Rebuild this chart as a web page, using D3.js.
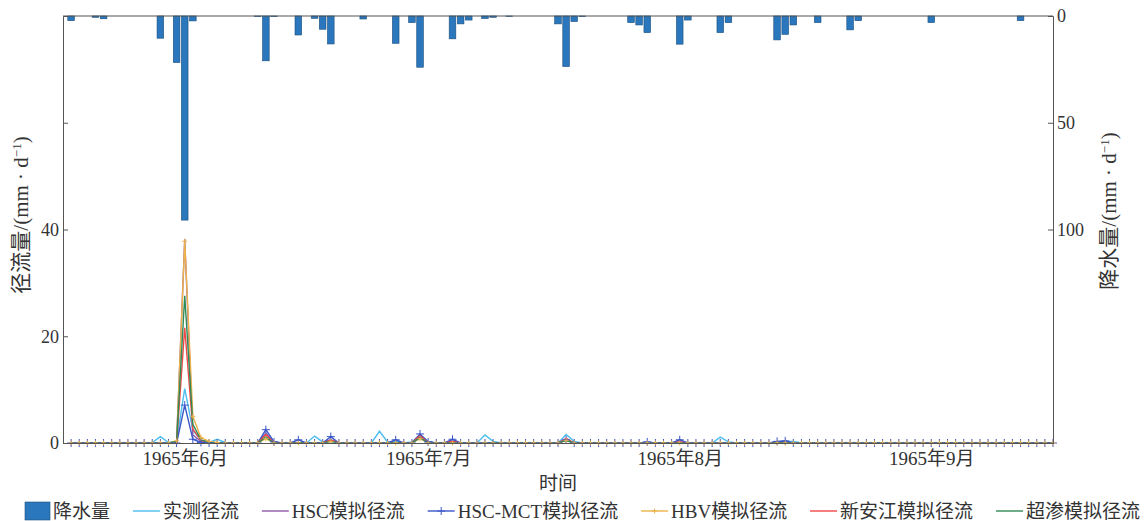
<!DOCTYPE html>
<html lang="zh">
<head>
  <meta charset="UTF-8">
  <title>降水量与径流过程</title>
  <script src="https://d3js.org/d3.v7.min.js"></script>
  <style>
    body { margin: 0; background: #fff; }
    text { font-family: "Liberation Serif", "Noto Sans CJK SC", serif; fill: #333; }
    .axis path, .axis line { stroke: #555; }
  </style>
</head>
<body>
<div id="chart"></div>

<script>
  // daily series, 1965-05-18 .. 1965-09-16 (one row per month)
  const rain = [
    2.2,0,0,0.6,1.3,0,0,0,0,0,0,10.4,0,21.8,
    95.6,2.3,0,0,0,0,0,0,0,0.3, 21,0.3,0,0,8.9,0,1.1,6.2,13.1,0, 0,0,1.4,0,0,0,12.8,0,3.1,24,
    0,0,0,10.7,3.7,1.9,0,1.2,0.6,0, 0.2,0,0,0,0,0,3.7,23.7,2.6,0.3, 0,0,0,0,0,3.1,4.2,7.8,0,0, 0,
    13.2,1.9,0,0,0,7.8,3.1,0,0,0, 0,0,11.2,8.6,4.2,0,0,3.1,0,0, 0,6.5,2.2,0,0,0,0,0,0,0, 0,
    3.1,0,0,0,0,0,0,0,0,0, 0,2.2,0,0,0,0
  ];
  const observed = [
    0,0,0,0,0,0,0,0,0,0,0.1,1.2,0.1,0.3,
    10.2,2.4,0.5,0.1,0.7,0.1,0,0,0,0, 1.2,0.2,0,0,0,0,1.3,0.2,0.5,0, 0,0,0,0,2.2,0.2,0.3,0,0.2,1.5,
    0.3,0,0,0.3,0,0,0,1.5,0.3,0, 0,0,0,0,0,0,0,1.6,0.3,0, 0,0,0,0,0,0,0,0,0,0, 0,
    0,0,0,0,0,1.1,0.2,0,0,0, 0,0,0.2,0.3,0.3,0,0,0,0,0, 0,0,0,0,0,0,0,0,0,0, 0,
    0,0,0,0,0,0,0,0,0,0, 0,0,0,0,0,0
  ];
  const hsc = [
    0,0,0,0,0,0,0,0,0,0,0,0,0,0.1,
    38.2,1.5,0.3,0,0,0,0,0,0,0, 1.8,0.2,0,0,0,0,0,0,0.6,0, 0,0,0,0,0,0,0,0,0,1.3,
    0.2,0,0,0.4,0,0,0,0,0,0, 0,0,0,0,0,0,0,0.5,0,0, 0,0,0,0,0,0,0,0,0,0, 0,
    0.2,0,0,0,0,0,0,0,0,0, 0,0,0,0.2,0,0,0,0,0,0, 0,0,0,0,0,0,0,0,0,0, 0,
    0,0,0,0,0,0,0,0,0,0, 0,0,0,0,0,0
  ];
  const hscMct = [
    0,0,0,0,0,0,0,0,0,0,0,0,0,0,
    7.1,0.7,0.1,0,0,0,0,0,0,0, 2.5,0.2,0,0,0.6,0,0,0,1.2,0, 0,0,0,0,0,0,0.6,0,0,1.7,
    0.2,0,0,0.7,0,0,0,0,0,0, 0,0,0,0,0,0,0,0.6,0,0, 0,0,0,0,0,0,0,0.2,0,0, 0,
    0.6,0,0,0,0,0,0,0,0,0, 0,0,0.3,0.4,0,0,0,0,0,0, 0,0,0,0,0,0,0,0,0,0, 0,
    0,0,0,0,0,0,0,0,0,0, 0,0,0,0,0,0
  ];
  const hbv = [
    0,0,0,0,0,0,0,0,0,0,0,0,0,0.4,
    37.8,5,1,0.3,0.1,0,0,0,0,0, 0.8,0,0,0,0,0,0,0,0.3,0, 0,0,0,0,0,0,0,0,0,0.8,
    0,0,0,0,0,0,0,0,0,0, 0,0,0,0,0,0,0,0.5,0,0, 0,0,0,0,0,0,0,0,0,0, 0,
    0,0,0,0,0,0,0,0,0,0, 0,0,0,0,0,0,0,0,0,0, 0,0,0,0,0,0,0,0,0,0, 0,
    0,0,0,0,0,0,0,0,0,0, 0,0,0,0,0,0
  ];
  const xaj = [
    0,0,0,0,0,0,0,0,0,0,0,0,0,0,
    21.6,2.6,0.5,0.1,0,0,0,0,0,0, 1.6,0,0,0,0,0,0,0,0.5,0, 0,0,0,0,0,0,0,0,0,1.4,
    0,0,0,0.3,0,0,0,0,0,0, 0,0,0,0,0,0,0,0.9,0,0, 0,0,0,0,0,0,0,0,0,0, 0,
    0.2,0,0,0,0,0,0,0,0,0, 0,0,0,0,0,0,0,0,0,0, 0,0,0,0,0,0,0,0,0,0, 0,
    0,0,0,0,0,0,0,0,0,0, 0,0,0,0,0,0
  ];
  const excess = [
    0,0,0,0,0,0,0,0,0,0,0,0,0,0.3,
    27.6,3.5,0.6,0.1,0,0,0,0,0,0, 1.1,0,0,0,0,0,0,0,0.3,0, 0,0,0,0,0,0,0,0,0,1.0,
    0,0,0,0,0,0,0,0,0,0, 0,0,0,0,0,0,0,0.5,0,0, 0,0,0,0,0,0,0,0,0,0, 0,
    0,0,0,0,0,0,0,0,0,0, 0,0,0,0,0,0,0,0,0,0, 0,0,0,0,0,0,0,0,0,0, 0,
    0,0,0,0,0,0,0,0,0,0, 0,0,0,0,0,0
  ];

  const monthTicks = [new Date(1965, 5, 1), new Date(1965, 6, 1), new Date(1965, 7, 1), new Date(1965, 8, 1)];
  const flowTicks = [0, 20, 40, 60];
  const rainTicks = [0, 50, 100];

  const days = d3.timeDay.range(new Date(1965, 4, 18), new Date(1965, 8, 17));

  const series = [
    { name: '实测径流', values: observed, color: '#4dbeee' },
    { name: 'HSC模拟径流', values: hsc, color: '#8e5aa8' },
    { name: 'HSC-MCT模拟径流', values: hscMct, color: '#3a56c8', marker: 4 },
    { name: 'HBV模拟径流', values: hbv, color: '#edb24a', marker: 2.5 },
    { name: '新安江模拟径流', values: xaj, color: '#f04848' },
    { name: '超渗模拟径流', values: excess, color: '#2e8b57' }
  ];

  const W = 1147, H = 521;
  const plot = { left: 63, right: 1053, top: 16, bottom: 443 };

  const svg = d3.select('#chart').append('svg')
    .attr('width', W)
    .attr('height', H);

  const x = d3.scaleTime()
    .domain([new Date(1965, 4, 17), new Date(1965, 8, 16)])
    .range([plot.left, plot.right]);
  const yFlow = d3.scaleLinear().domain([0, 80]).range([plot.bottom, plot.top]);
  const yRain = d3.scaleLinear().domain([0, 200]).range([plot.top, plot.bottom]);
  const barW = (x(days[1]) - x(days[0])) * 0.82;

  // precipitation bars hanging from the top
  svg.append('g').selectAll('rect')
    .data(days.map((d, i) => ({ d, v: rain[i] })).filter(p => p.v > 0))
    .enter().append('rect')
    .attr('x', p => x(p.d) - barW / 2)
    .attr('y', yRain(0))
    .attr('width', barW)
    .attr('height', p => yRain(p.v) - yRain(0))
    .attr('fill', '#2a77bd')
    .attr('stroke', '#1d4f7d')
    .attr('stroke-width', 0.6);

  // runoff lines
  const line = d3.line()
    .x((v, i) => x(days[i]))
    .y(v => yFlow(v));

  series.forEach(s => {
    svg.append('path')
      .datum(s.values)
      .attr('fill', 'none')
      .attr('stroke', s.color)
      .attr('stroke-width', 1.4)
      .attr('d', line);
  });

  series.filter(s => s.marker).forEach(s => {
    const m = s.marker;
    svg.append('g').selectAll('path')
      .data(s.values)
      .enter().append('path')
      .attr('d', (v, i) => {
        const cx = x(days[i]), cy = yFlow(v);
        return `M${cx - m},${cy}H${cx + m}M${cx},${cy - m}V${cy + m}`;
      })
      .attr('stroke', s.color)
      .attr('stroke-width', 1);
  });

  // frame
  svg.append('line')
    .attr('x1', plot.left).attr('x2', plot.right).attr('y1', plot.top).attr('y2', plot.top)
    .attr('stroke', '#555');

  // axes
  svg.append('g')
    .attr('class', 'axis')
    .attr('transform', `translate(${plot.left},0)`)
    .call(d3.axisLeft(yFlow).tickValues(flowTicks).tickSize(-5).tickPadding(4)
      .tickFormat(d => d <= 40 ? d : ''))
    .call(g => g.selectAll('text').style('font-size', '18px'));

  svg.append('g')
    .attr('class', 'axis')
    .attr('transform', `translate(${plot.right},0)`)
    .call(d3.axisRight(yRain).tickValues(rainTicks).tickSize(-5).tickPadding(4))
    .call(g => g.selectAll('text').style('font-size', '18px'));

  svg.append('g')
    .attr('class', 'axis')
    .attr('transform', `translate(0,${plot.bottom})`)
    .call(d3.axisBottom(x).tickValues(monthTicks).tickSize(0).tickPadding(9)
      .tickFormat(d => `1965年${d.getMonth() + 1}月`))
    .call(g => g.select('.domain').attr('stroke', '#222'))
    .call(g => g.selectAll('text').style('font-size', '19px'));

  // axis titles
  function unitLabel(sel, prefix) {
    sel.append('tspan').text(prefix + '/(mm · d');
    sel.append('tspan').attr('baseline-shift', 'super').style('font-size', '13px').text('−1');
    sel.append('tspan').text(')');
  }

  svg.append('text')
    .attr('transform', 'translate(28,215) rotate(-90)')
    .attr('text-anchor', 'middle')
    .style('font-size', '21px')
    .call(unitLabel, '径流量');

  svg.append('text')
    .attr('transform', 'translate(1116,211) rotate(-90)')
    .attr('text-anchor', 'middle')
    .style('font-size', '21px')
    .call(unitLabel, '降水量');

  svg.append('text')
    .attr('x', 558).attr('y', 490)
    .attr('text-anchor', 'middle')
    .style('font-size', '19px')
    .text('时间');

  // legend
  const legendItems = [{ name: '降水量', bar: true, color: '#2a77bd' }, ...series];
  const legend = svg.append('g').attr('transform', 'translate(0,511)');
  const items = legend.selectAll('g').data(legendItems).enter().append('g');
  items.each(function (d) {
    const g = d3.select(this);
    if (d.bar) {
      g.append('rect').attr('x', 0).attr('y', -9).attr('width', 25).attr('height', 18)
        .attr('fill', d.color).attr('stroke', '#1d4f7d').attr('stroke-width', 0.6);
    } else {
      g.append('line').attr('x1', 0).attr('x2', 27).attr('y1', 0).attr('y2', 0)
        .attr('stroke', d.color).attr('stroke-width', 1.4);
      if (d.marker) {
        g.append('path').attr('d', `M${13.5 - d.marker},0H${13.5 + d.marker}M13.5,${-d.marker}V${d.marker}`)
          .attr('stroke', d.color).attr('stroke-width', 1);
      }
    }
    g.append('text')
      .attr('x', d.bar ? 28 : 30)
      .attr('dy', '0.35em')
      .style('font-size', '19px')
      .text(d.name);
  });
  const widths = [];
  items.each(function () { widths.push(this.getBBox().width); });
  const gap = (1140 - 25 - d3.sum(widths)) / (widths.length - 1);
  let cursor = 25;
  items.attr('transform', (d, i) => {
    const t = `translate(${cursor},0)`;
    cursor += widths[i] + gap;
    return t;
  });
</script>
</body>
</html>
